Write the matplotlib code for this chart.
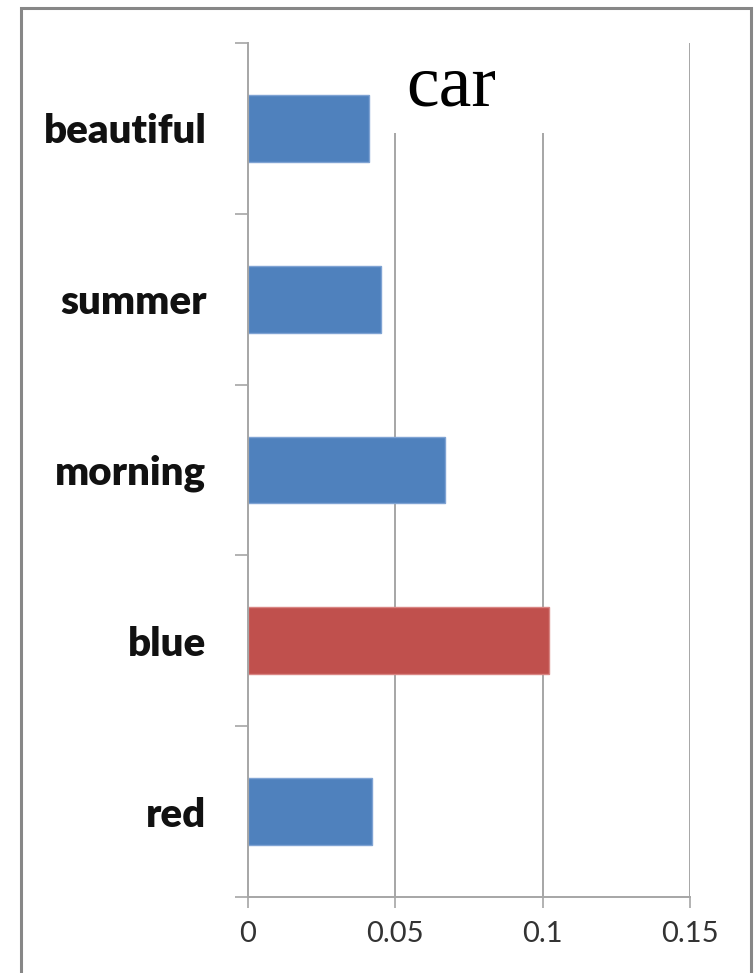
import matplotlib
matplotlib.use("Agg")
import matplotlib.pyplot as plt
from matplotlib.patches import Rectangle

categories = ["red", "blue", "morning", "summer", "beautiful"]
values = [0.042, 0.102, 0.067, 0.045, 0.041]
colors = ["#4F81BD", "#C0504D", "#4F81BD", "#4F81BD", "#4F81BD"]
edge_colors = ["#7FA3D3", "#D98583", "#7FA3D3", "#7FA3D3", "#7FA3D3"]
xticks = [0, 0.05, 0.1, 0.15]
xticklabels = ["0", "0.05", "0.1", "0.15"]
title = "car"

W, H = 754, 973
fig = plt.figure(figsize=(W / 100, H / 100), dpi=100)
fig.patch.set_facecolor("white")

# figure border
fig.patches.append(Rectangle((21 / W, -0.01), (751 - 21) / W, 1 - 8 / H + 0.01,
                             transform=fig.transFigure, fill=False,
                             edgecolor="#878787", linewidth=2.2, zorder=0))

left, right, top, bottom = 248, 690, 43, 897
ax = fig.add_axes([left / W, 1 - bottom / H, (right - left) / W, (bottom - top) / H])

ypos = list(range(len(categories)))
ax.barh(ypos, values, height=0.39, color=colors, edgecolor=edge_colors,
        linewidth=1.0, zorder=3)

ax.set_xlim(0, 0.15)
ax.set_ylim(-0.5, len(categories) - 0.5)

# gridlines
for xv in xticks[1:]:
    ax.axvline(xv, color="#A6A6A6", linewidth=1.4, zorder=1)

for s in ["top", "right"]:
    ax.spines[s].set_visible(False)
for s in ["left", "bottom"]:
    ax.spines[s].set_color("#A6A6A6")
    ax.spines[s].set_linewidth(1.4)
    ax.spines[s].set_zorder(4)

ax.set_xticks(xticks)
ax.set_xticklabels(xticklabels, fontfamily="Lato", fontsize=21, color="#333333")
ax.tick_params(axis="x", direction="out", length=8, width=1.2, color="#A6A6A6", pad=9)

ax.set_yticks([p - 0.5 for p in ypos] + [len(categories) - 0.5])
ax.set_yticklabels([])
ax.tick_params(axis="y", which="major", direction="out", length=9.5, width=1.2, color="#A6A6A6")
ax.set_yticks(ypos, minor=True)
ax.set_yticklabels(categories, minor=True, fontfamily="Lato", fontweight="heavy",
                   fontsize=29, color="#111111")
ax.tick_params(axis="y", which="minor", length=0, pad=30)

# white title box covering gridlines
y0 = 1 - (133 - top) / (bottom - top)
ax.add_patch(Rectangle((0.047, y0), 0.058, 1 - y0 + 0.002,
                       transform=ax.get_xaxis_transform(), facecolor="white",
                       edgecolor="none", zorder=2, clip_on=False))
ax.text(0.0688, 1 - (105 - top) / (bottom - top), title, transform=ax.get_xaxis_transform(),
        ha="center", va="baseline", fontfamily="Liberation Serif", fontsize=53,
        color="black", zorder=5)

fig.savefig("out.png", dpi=100, facecolor="white")
